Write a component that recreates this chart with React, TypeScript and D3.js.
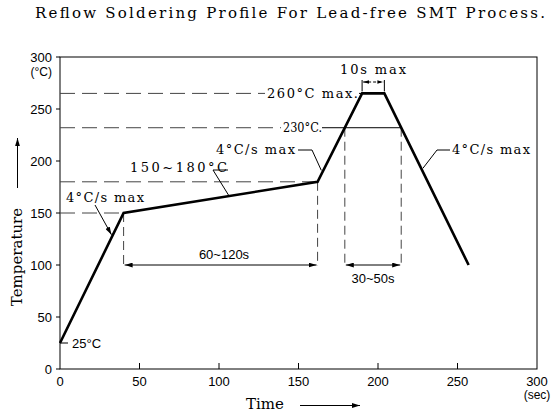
import React from 'react';
import * as d3 from 'd3';

// profile
const profileTime = [0, 40, 162, 190, 204, 257];
const profileTemp = [25, 150, 180, 265, 265, 100];
const xTicks = [0, 50, 100, 150, 200, 250, 300];
const yTicks = [0, 50, 100, 150, 200, 250, 300];

// guide levels (°C) and the level the duration arrows sit at
const peakLevel = 265;
const liquidusLevel = 232;
const soakTop = 180;
const soakBottom = 150;
const arrowLevel = 100;

const W = 559;
const H = 414;
const margin = { top: 57, right: 22, bottom: 45, left: 60 };

const serif = '"DejaVu Serif", "Liberation Serif", serif';
const sans = '"Liberation Sans", Arial, sans-serif';

// time at which the profile crosses a level on a given segment
const crossAt = (i: number, level: number) => {
  const t0 = profileTime[i], t1 = profileTime[i + 1];
  const v0 = profileTemp[i], v1 = profileTemp[i + 1];
  return t0 + ((level - v0) / (v1 - v0)) * (t1 - t0);
};

const App: React.FC = () => {
  const x = d3.scaleLinear().domain([0, 300]).range([margin.left, W - margin.right]);
  const y = d3.scaleLinear().domain([0, 300]).range([H - margin.bottom, margin.top]);

  const pts = profileTime.map((t, i) => [x(t), y(profileTemp[i])] as [number, number]);
  const line = d3.line()(pts) || '';

  const tRiseLiq = crossAt(2, liquidusLevel);
  const tFallLiq = crossAt(4, liquidusLevel);
  const tPeakL = profileTime[3];
  const tPeakR = profileTime[4];

  const dashH = '15,7';
  const dashV = '9,5';
  const guide = '#444';

  // points on the curve used by the leader lines
  const riseFirst = [x(33), y(25 + (125 * 33) / 40)];
  const soakPt = [x(106), y(soakBottom + (30 * 66) / 122)];
  const riseSecond = [x(165.6), y(191)];
  const fallPt = [x(227), y(193)];

  return (
    <svg width={W} height={H} style={{ position: 'absolute', left: 0, top: 0, background: '#fff' }}>
      <defs>
        <marker id="ah" viewBox="0 0 10 6" refX="10" refY="3" markerWidth="8" markerHeight="5" orient="auto-start-reverse" markerUnits="userSpaceOnUse">
          <path d="M0,0 L10,3 L0,6 Z" fill="#000" />
        </marker>
        <marker id="ahs" viewBox="0 0 10 6" refX="10" refY="3" markerWidth="6" markerHeight="4" orient="auto-start-reverse" markerUnits="userSpaceOnUse">
          <path d="M0,0 L10,3 L0,6 Z" fill="#000" />
        </marker>
      </defs>

      <text x={290} y={18} textAnchor="middle" fontFamily={serif} fontSize={15} textLength={510} lengthAdjust="spacing">
        Reflow Soldering Profile For Lead-free SMT Process.
      </text>

      {/* frame */}
      <rect x={x(0)} y={y(300)} width={x(300) - x(0)} height={y(0) - y(300)} fill="none" stroke="#000" strokeWidth={1} />

      {/* y ticks */}
      {yTicks.map(v => (
        <g key={'y' + v}>
          <line x1={x(0) - 4} x2={x(0)} y1={y(v)} y2={y(v)} stroke="#000" />
          <text x={52} y={y(v)} dy="0.35em" textAnchor="end" fontFamily={sans} fontSize={13}>{v}</text>
        </g>
      ))}
      <text x={52} y={y(300) + 19} textAnchor="end" fontFamily={sans} fontSize={12}>(°C)</text>

      {/* x ticks */}
      {xTicks.map(v => (
        <g key={'x' + v}>
          {v > 0 && v < 300 && <line x1={x(v)} x2={x(v)} y1={y(0)} y2={y(0) - 6} stroke="#000" />}
          <text x={x(v)} y={y(0) + 17} textAnchor="middle" fontFamily={sans} fontSize={13}>{v}</text>
        </g>
      ))}
      <text x={x(300)} y={y(0) + 30} textAnchor="middle" fontFamily={sans} fontSize={12}>(sec)</text>

      {/* axis titles */}
      <text transform={`translate(22,257) rotate(-90)`} textAnchor="middle" fontFamily={serif} fontSize={15}>Temperature</text>
      <line x1={17.5} x2={17.5} y1={188} y2={138} stroke="#000" markerEnd="url(#ah)" />
      <text x={265} y={409} textAnchor="middle" fontFamily={serif} fontSize={15}>Time</text>
      <line x1={300} x2={360} y1={405.5} y2={405.5} stroke="#000" markerEnd="url(#ah)" />

      {/* horizontal guides */}
      <line x1={x(0)} x2={265} y1={y(peakLevel)} y2={y(peakLevel)} stroke={guide} strokeDasharray={dashH} />
      <line x1={359} x2={x(tPeakL)} y1={y(peakLevel)} y2={y(peakLevel)} stroke="#000" />
      <text x={267} y={y(peakLevel)} dy="0.35em" fontFamily={serif} fontSize={13} textLength={91} lengthAdjust="spacing">260°C max.</text>

      <line x1={x(0)} x2={281} y1={y(liquidusLevel)} y2={y(liquidusLevel)} stroke={guide} strokeDasharray={dashH} />
      <line x1={322} x2={x(tFallLiq)} y1={y(liquidusLevel)} y2={y(liquidusLevel)} stroke="#000" />
      <text x={283} y={y(liquidusLevel)} dy="0.35em" fontFamily={serif} fontSize={13} textLength={39} lengthAdjust="spacingAndGlyphs">230°C.</text>

      <line x1={x(0)} x2={x(profileTime[2])} y1={y(soakTop)} y2={y(soakTop)} stroke={guide} strokeDasharray={dashH} />
      <line x1={x(0)} x2={x(profileTime[1])} y1={y(soakBottom)} y2={y(soakBottom)} stroke={guide} strokeDasharray={dashH} />

      {/* vertical guides */}
      {[profileTime[1], profileTime[2], tRiseLiq, tFallLiq].map((t, i) => {
        const top = i === 0 ? soakBottom : i === 1 ? soakTop : liquidusLevel;
        return <line key={'v' + i} x1={x(t)} x2={x(t)} y1={y(top)} y2={y(arrowLevel) + 1} stroke={guide} strokeDasharray={dashV} />;
      })}

      {/* duration arrows */}
      <line x1={x(profileTime[1]) + 1} x2={x(profileTime[2]) - 1} y1={y(arrowLevel)} y2={y(arrowLevel)} stroke="#000" markerStart="url(#ah)" markerEnd="url(#ah)" />
      <text x={224} y={y(arrowLevel) - 6} textAnchor="middle" fontFamily={sans} fontSize={13}>60~120s</text>
      <line x1={x(tRiseLiq) + 1} x2={x(tFallLiq) - 1} y1={y(arrowLevel)} y2={y(arrowLevel)} stroke="#000" markerStart="url(#ah)" markerEnd="url(#ah)" />
      <text x={(x(tRiseLiq) + x(tFallLiq)) / 2} y={y(arrowLevel) + 18} textAnchor="middle" fontFamily={sans} fontSize={13}>30~50s</text>

      {/* 10s max bracket */}
      <line x1={x(tPeakL)} x2={x(tPeakL)} y1={y(peakLevel) - 2} y2={80} stroke="#000" />
      <line x1={x(tPeakR)} x2={x(tPeakR)} y1={y(peakLevel) - 2} y2={80} stroke="#000" />
      <line x1={x(tPeakL) + 1} x2={x(tPeakR) - 1} y1={82} y2={82} stroke="#000" strokeDasharray="3,2" markerStart="url(#ahs)" markerEnd="url(#ahs)" />
      <text x={373} y={74} textAnchor="middle" fontFamily={serif} fontSize={13} textLength={66} lengthAdjust="spacing">10s max</text>

      {/* leader annotations */}
      <text x={66} y={202} fontFamily={serif} fontSize={13} textLength={78} lengthAdjust="spacing">4°C/s max</text>
      <line x1={95} y1={205} x2={riseFirst[0] - 1} y2={riseFirst[1] - 1} stroke="#000" markerEnd="url(#ah)" />

      <text x={130} y={172} fontFamily={serif} fontSize={13} textLength={97} lengthAdjust="spacing">150~180°C</text>
      <polyline points={`228,170 213,170 ${soakPt[0]},${soakPt[1] - 1}`} fill="none" stroke="#000" />

      <text x={216} y={154} fontFamily={serif} fontSize={13} textLength={79} lengthAdjust="spacing">4°C/s max</text>
      <polyline points={`298,150 312,150 ${riseSecond[0] - 2},${riseSecond[1]}`} fill="none" stroke="#000" />

      <text x={452} y={154} fontFamily={serif} fontSize={13} textLength={78} lengthAdjust="spacing">4°C/s max</text>
      <polyline points={`450,150 437,150 ${fallPt[0] + 2},${fallPt[1]}`} fill="none" stroke="#000" />

      <line x1={x(0)} x2={68} y1={y(25)} y2={y(25)} stroke="#000" />
      <text x={72} y={y(25)} dy="0.35em" fontFamily={sans} fontSize={13}>25°C</text>

      {/* profile */}
      <path d={line} fill="none" stroke="#000" strokeWidth={2.6} strokeLinejoin="miter" />
    </svg>
  );
};

export default App;
